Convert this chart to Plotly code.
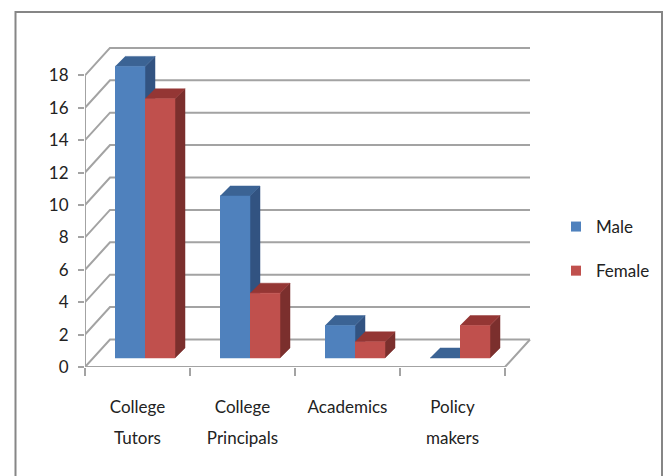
import plotly.graph_objects as go

# ---- data
categories = ["College<br>Tutors", "College<br>Principals", "Academics", "Policy<br>makers"]
male = [18, 10, 2, 0]
female = [16, 4, 1, 2]
y_ticks = [0, 2, 4, 6, 8, 10, 12, 14, 16, 18]

# ---- styling
W, H = 666, 476
L, R, T, B = 85, 532, 47, 367
CAT_PX = 105.0
UNIT_PX = 16.2
X_MAX = (R - L) / CAT_PX
Y_MAX = (B - T) / UNIT_PX
WALL_DX = 25 / CAT_PX
WALL_DY = 27.5 / UNIT_PX
BAR_X0 = 30 / CAT_PX
BAR_W = 30 / CAT_PX
BAR_BASE = 9 / UNIT_PX
SIDE_DX = 10 / CAT_PX
SIDE_DY = 10 / UNIT_PX
GRID = "#a3a3a3"
FONT = "Lato"
FONT_PX = 17
COL = {
    "Male": dict(front="#4f81bd", side="#325381", top="#3b6394"),
    "Female": dict(front="#c0504d", side="#7b2f2d", top="#943634"),
}

fig = go.Figure()


def line(xs, ys):
    fig.add_trace(go.Scatter(x=xs, y=ys, mode="lines", showlegend=False, hoverinfo="skip",
                             line=dict(color=GRID, width=2)))


def poly(xs, ys, color):
    fig.add_trace(go.Scatter(x=xs, y=ys, mode="lines", fill="toself", fillcolor=color, showlegend=False,
                             hoverinfo="skip", line=dict(color=color, width=0.5)))


# walls
n = len(categories)
for v in y_ticks:
    line([0, WALL_DX, n + WALL_DX], [v, v + WALL_DY, v + WALL_DY])
line([0, 0], [0, max(y_ticks)])
line([0, n, n + WALL_DX], [0, 0, WALL_DY])

# bars
for i in range(n):
    for j, (name, vals) in enumerate((("Male", male), ("Female", female))):
        v = vals[i]
        c = COL[name]
        x0 = i + BAR_X0 + j * BAR_W
        x1 = x0 + BAR_W
        y0 = BAR_BASE
        y1 = v + BAR_BASE
        if v > 0:
            poly([x1, x1 + SIDE_DX, x1 + SIDE_DX, x1], [y0, y0 + SIDE_DY, y1 + SIDE_DY, y1], c["side"])
        poly([x0, x1, x1 + SIDE_DX, x0 + SIDE_DX], [y1, y1, y1 + SIDE_DY, y1 + SIDE_DY], c["top"])
        if v > 0:
            poly([x0, x1, x1, x0], [y0, y0, y1, y1], c["front"])

# legend
for name in ("Male", "Female"):
    fig.add_trace(go.Scatter(x=[None], y=[None], mode="markers", name=name, legendgroup=name,
                             marker=dict(symbol="square", size=10, color=COL[name]["front"])))

# frame
fx = lambda px: (px - L) / (R - L)
fy = lambda px: (B - px) / (B - T)
fig.add_shape(type="path", xref="paper", yref="paper", layer="below",
              path=f"M {fx(15.5)} {fy(480)} L {fx(15.5)} {fy(12)} L {fx(662)} {fy(12)} L {fx(662)} {fy(480)}",
              line=dict(color="#868686", width=2))

fig.update_layout(
    width=W, height=H,
    margin=dict(l=L, r=W - R, t=T, b=H - B, pad=0, autoexpand=False),
    paper_bgcolor="white", plot_bgcolor="white",
    font=dict(family=FONT, size=FONT_PX, color="#222222"),
    legend=dict(x=fx(556), y=fy(249), xanchor="left", yanchor="middle", traceorder="grouped",
                tracegroupgap=19, bgcolor="rgba(0,0,0,0)", font=dict(family=FONT, size=FONT_PX)),
    xaxis=dict(range=[0, X_MAX], showgrid=False, zeroline=False, showline=False,
               tickvals=[i + 0.5 for i in range(n)],
               ticktext=[f'<span style="font-size:{FONT_PX}px">{c}</span>' for c in categories],
               ticks="", tickangle=0, ticklabelstandoff=21, tickfont=dict(family=FONT, size=24),
               minor=dict(tickvals=list(range(n + 1)), ticks="outside", ticklen=8, tickwidth=1.5, tickcolor=GRID)),
    yaxis=dict(range=[0, Y_MAX], showgrid=False, zeroline=False, showline=False,
               tickvals=y_ticks, ticks="outside", ticklen=6, tickwidth=1.5, tickcolor=GRID,
               tickfont=dict(family=FONT, size=FONT_PX), ticklabelstandoff=6),
)

fig.write_html("out.html", config=dict(displayModeBar=False),
               post_script="document.body.style.margin='0';document.body.style.overflow='hidden';")
